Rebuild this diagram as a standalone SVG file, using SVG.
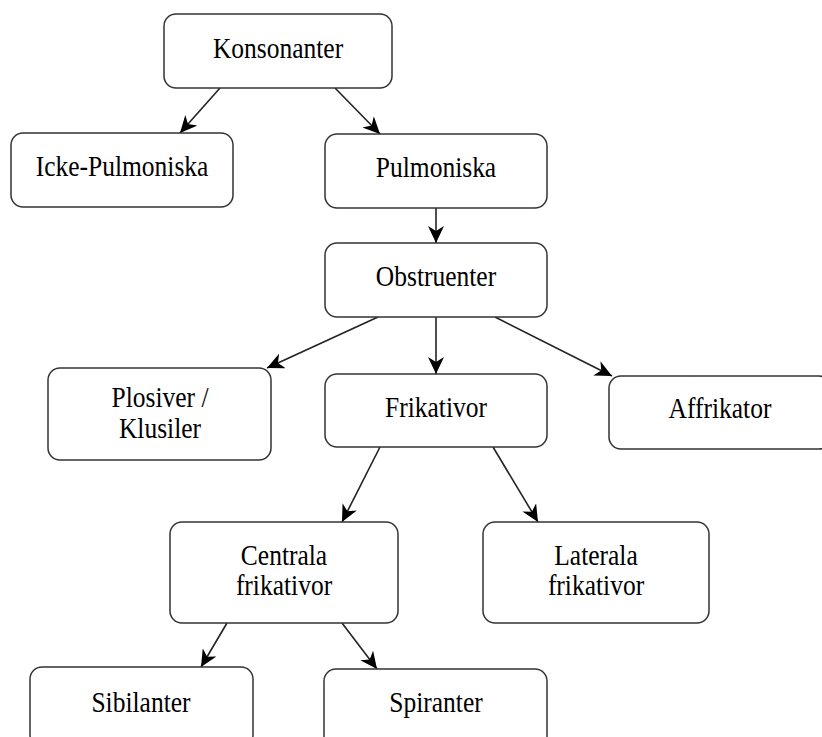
<svg xmlns="http://www.w3.org/2000/svg" width="822" height="737" viewBox="0 0 822 737">
<style>
.box{fill:#fff;stroke:#333;stroke-width:1.5}
.lbl{font-family:"Liberation Serif","Times New Roman",serif;font-size:25.5px;fill:#000;text-anchor:middle}
.edge{stroke:#222;stroke-width:1.6;fill:none;marker-end:url(#ah)}
</style>
<defs>
<marker id="ah" markerUnits="userSpaceOnUse" markerWidth="18" markerHeight="16" refX="17" refY="8" orient="auto" viewBox="0 0 18 16">
<path d="M0,0 L17,8 L0,16 L5,8 z" fill="#000"/>
</marker>
</defs>
<rect width="822" height="737" fill="#fff"/>
<g id="connectors">
<line class="edge" x1="220" y1="88" x2="180" y2="133"/>
<line class="edge" x1="335" y1="88" x2="380" y2="134"/>
<line class="edge" x1="436" y1="208" x2="436" y2="243"/>
<line class="edge" x1="378" y1="317" x2="267" y2="368"/>
<line class="edge" x1="436" y1="317" x2="436" y2="374"/>
<line class="edge" x1="495" y1="317" x2="612" y2="376"/>
<line class="edge" x1="380" y1="447" x2="342" y2="522"/>
<line class="edge" x1="493" y1="447" x2="538" y2="522"/>
<line class="edge" x1="227" y1="623" x2="201" y2="667"/>
<line class="edge" x1="342" y1="623" x2="377" y2="669"/>
</g>
<g id="konsonanter">
<rect class="box" x="164" y="14" width="228" height="74" rx="12"/>
<text class="lbl" transform="translate(278,58) scale(1,1.12)">Konsonanter</text>
</g>
<g id="icke-pulmoniska">
<rect class="box" x="11" y="133" width="222" height="74" rx="12"/>
<text class="lbl" transform="translate(122,176) scale(1,1.12)">Icke-Pulmoniska</text>
</g>
<g id="pulmoniska">
<rect class="box" x="325" y="134" width="222" height="74" rx="12"/>
<text class="lbl" transform="translate(436,177) scale(1,1.12)">Pulmoniska</text>
</g>
<g id="obstruenter">
<rect class="box" x="325" y="243" width="222" height="74" rx="12"/>
<text class="lbl" transform="translate(436,286) scale(1,1.12)">Obstruenter</text>
</g>
<g id="plosiver">
<rect class="box" x="48" y="368" width="223" height="92" rx="12"/>
<text class="lbl" transform="translate(160,407) scale(1,1.12)">Plosiver /</text>
<text class="lbl" transform="translate(160,438) scale(1,1.12)">Klusiler</text>
</g>
<g id="frikativor">
<rect class="box" x="325" y="374" width="222" height="73" rx="12"/>
<text class="lbl" transform="translate(436,417) scale(1,1.12)">Frikativor</text>
</g>
<g id="affrikator">
<rect class="box" x="609" y="376" width="222" height="73" rx="12"/>
<text class="lbl" transform="translate(720,418) scale(1,1.12)">Affrikator</text>
</g>
<g id="centrala">
<rect class="box" x="170" y="522" width="228" height="101" rx="12"/>
<text class="lbl" transform="translate(284,565) scale(1,1.12)">Centrala</text>
<text class="lbl" transform="translate(284,595) scale(1,1.12)">frikativor</text>
</g>
<g id="laterala">
<rect class="box" x="483" y="522" width="226" height="101" rx="12"/>
<text class="lbl" transform="translate(596,565) scale(1,1.12)">Laterala</text>
<text class="lbl" transform="translate(596,595) scale(1,1.12)">frikativor</text>
</g>
<g id="sibilanter">
<rect class="box" x="30" y="667" width="223" height="80" rx="12"/>
<text class="lbl" transform="translate(141,712) scale(1,1.12)">Sibilanter</text>
</g>
<g id="spiranter">
<rect class="box" x="324" y="669" width="223" height="80" rx="12"/>
<text class="lbl" transform="translate(436,712) scale(1,1.12)">Spiranter</text>
</g>
</svg>
